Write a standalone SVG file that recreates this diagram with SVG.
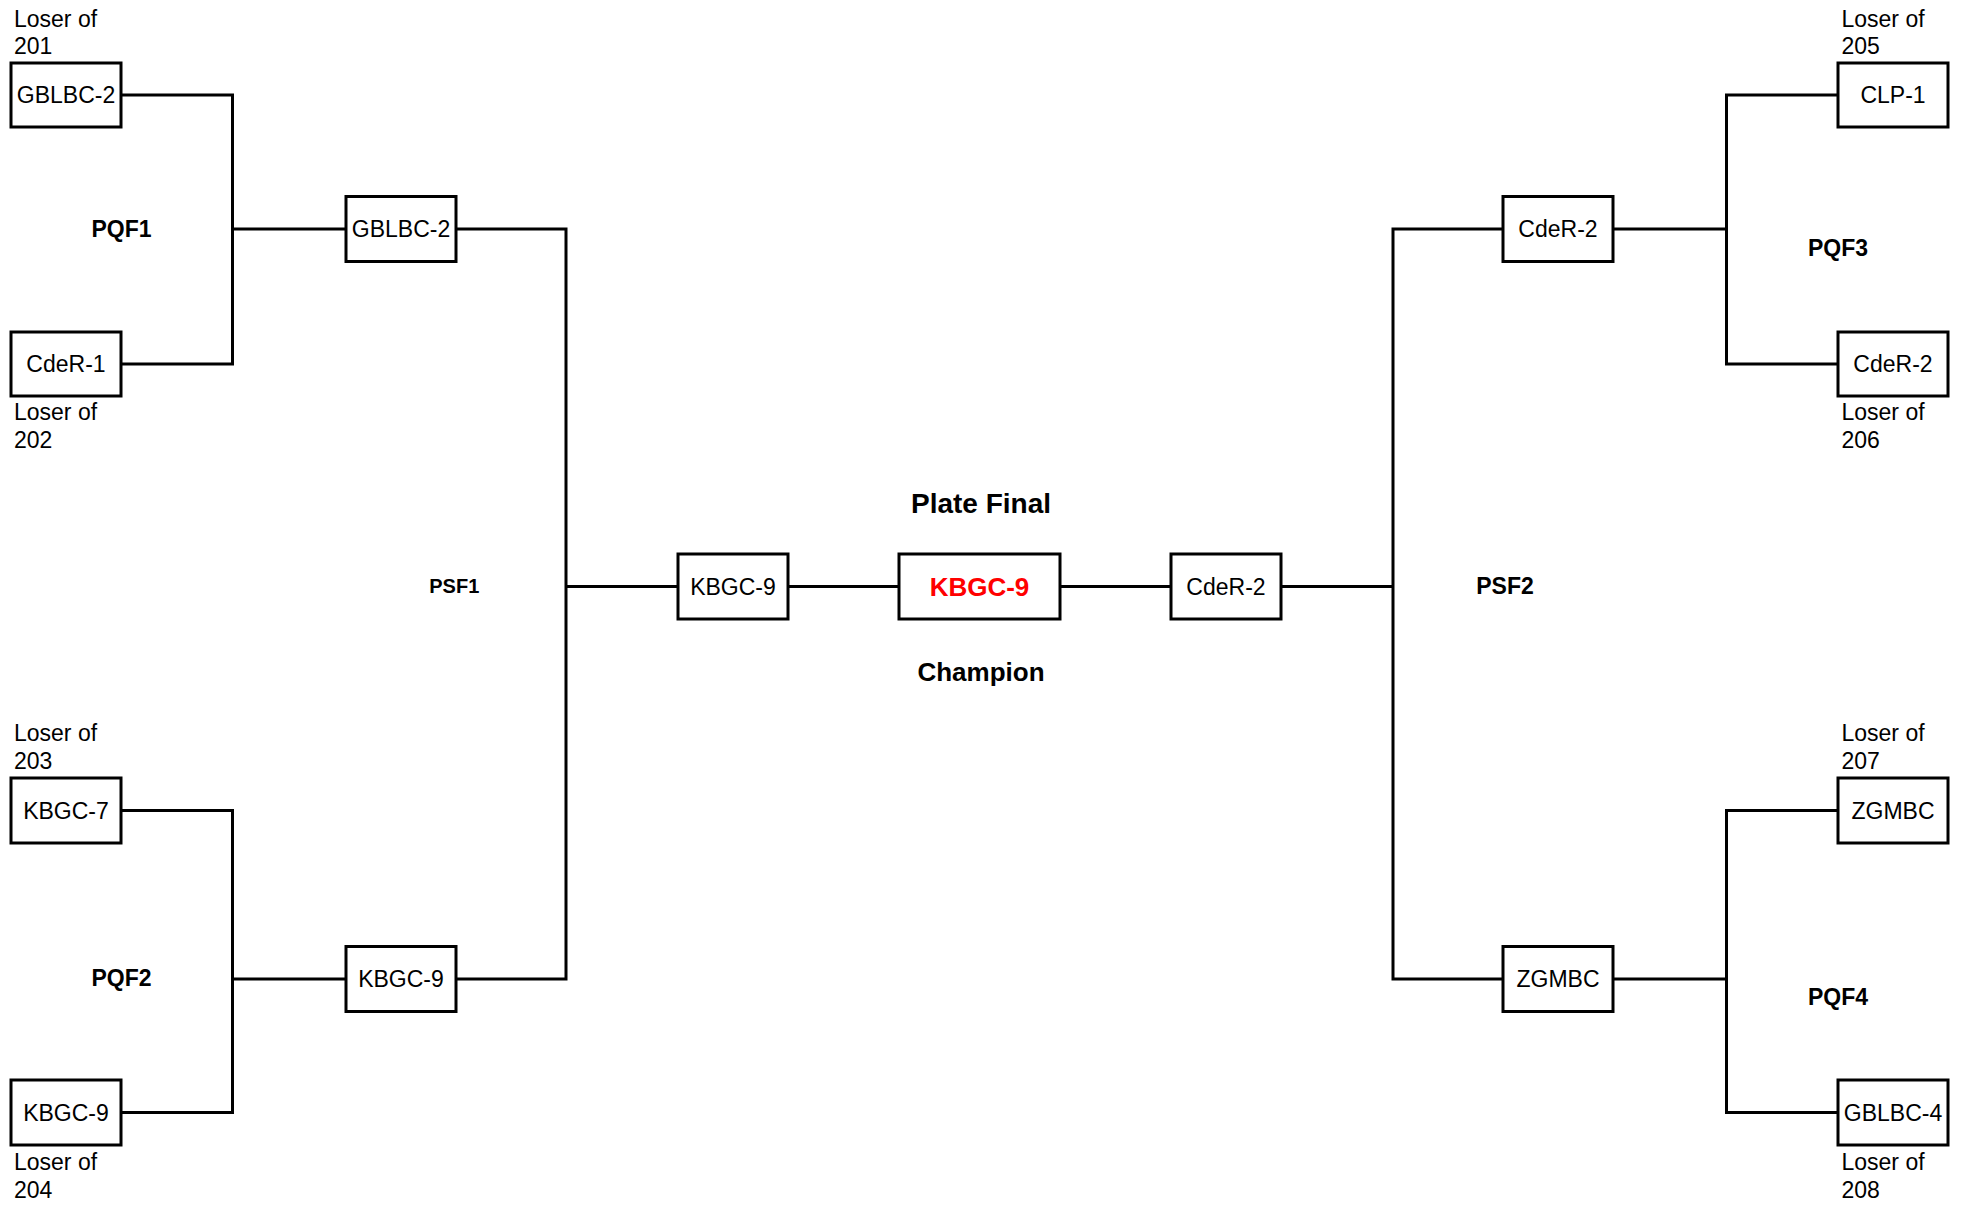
<svg xmlns="http://www.w3.org/2000/svg" width="1962" height="1205" viewBox="0 0 1962 1205">
<style>
.box{fill:#fff;stroke:#000;stroke-width:3}
.ln{fill:none;stroke:#000;stroke-width:3}
.t{font-family:"Liberation Sans",Arial,sans-serif;font-size:23px;fill:#000}
.c{text-anchor:middle}
.b{font-weight:bold}
</style>
<rect width="1962" height="1205" fill="#fff"/>
<g id="connectors">
<path class="ln" d="M121 95 H232.5 V364 H121"/>
<path class="ln" d="M232.5 229 H346"/>
<path class="ln" d="M456 229 H566 V979 H456"/>
<path class="ln" d="M566 586.5 H678"/>
<path class="ln" d="M788 586.5 H899"/>
<path class="ln" d="M121 810.5 H232.5 V1112.5 H121"/>
<path class="ln" d="M232.5 979 H346"/>
<path class="ln" d="M1838 95 H1726.5 V364 H1838"/>
<path class="ln" d="M1726.5 229 H1613"/>
<path class="ln" d="M1503 229 H1393 V979 H1503"/>
<path class="ln" d="M1393 586.5 H1281"/>
<path class="ln" d="M1171 586.5 H1060"/>
<path class="ln" d="M1838 810.5 H1726.5 V1112.5 H1838"/>
<path class="ln" d="M1726.5 979 H1613"/>
</g>
<g id="labels">
<text class="t b c" x="121.5" y="237">PQF1</text>
<text class="t b c" x="121.5" y="986">PQF2</text>
<text class="t b c" x="1838" y="256">PQF3</text>
<text class="t b c" x="1838" y="1004.5">PQF4</text>
<text class="t b c" x="454.3" y="593.3" style="font-size:20px">PSF1</text>
<text class="t b c" x="1505" y="594">PSF2</text>
<text class="t b c" x="981" y="513" style="font-size:28px">Plate Final</text>
<text class="t b c" x="981" y="681" style="font-size:26px">Champion</text>
<text class="t" x="14" y="26.5">Loser of<tspan x="14" y="53.5">201</tspan></text>
<text class="t" x="14" y="419.5">Loser of<tspan x="14" y="448">202</tspan></text>
<text class="t" x="14" y="740.7">Loser of<tspan x="14" y="769">203</tspan></text>
<text class="t" x="14" y="1170">Loser of<tspan x="14" y="1198">204</tspan></text>
<text class="t" x="1841.5" y="26.5">Loser of<tspan x="1841.5" y="53.5">205</tspan></text>
<text class="t" x="1841.5" y="419.5">Loser of<tspan x="1841.5" y="448">206</tspan></text>
<text class="t" x="1841.5" y="740.7">Loser of<tspan x="1841.5" y="769">207</tspan></text>
<text class="t" x="1841.5" y="1170">Loser of<tspan x="1841.5" y="1198">208</tspan></text>
</g>
<g id="n-pqf1-a"><rect class="box" x="11" y="63" width="110" height="64"/><text class="t c" x="66" y="103">GBLBC-2</text></g>
<g id="n-pqf1-b"><rect class="box" x="11" y="332" width="110" height="64"/><text class="t c" x="66" y="372">CdeR-1</text></g>
<g id="n-pqf2-a"><rect class="box" x="11" y="778" width="110" height="65"/><text class="t c" x="66" y="818.5">KBGC-7</text></g>
<g id="n-pqf2-b"><rect class="box" x="11" y="1080" width="110" height="65"/><text class="t c" x="66" y="1120.5">KBGC-9</text></g>
<g id="n-psf1-a"><rect class="box" x="346" y="196.5" width="110" height="65"/><text class="t c" x="401" y="237">GBLBC-2</text></g>
<g id="n-psf1-b"><rect class="box" x="346" y="946.5" width="110" height="65"/><text class="t c" x="401" y="987">KBGC-9</text></g>
<g id="n-final-a"><rect class="box" x="678" y="554" width="110" height="65"/><text class="t c" x="733" y="594.5">KBGC-9</text></g>
<g id="n-champion"><rect class="box" x="899" y="554" width="161" height="65"/><text class="t c b" x="979.5" y="595.5" style="font-size:26px;fill:#ff0000">KBGC-9</text></g>
<g id="n-final-b"><rect class="box" x="1171" y="554" width="110" height="65"/><text class="t c" x="1226" y="594.5">CdeR-2</text></g>
<g id="n-psf2-a"><rect class="box" x="1503" y="196.5" width="110" height="65"/><text class="t c" x="1558" y="237">CdeR-2</text></g>
<g id="n-psf2-b"><rect class="box" x="1503" y="946.5" width="110" height="65"/><text class="t c" x="1558" y="987">ZGMBC</text></g>
<g id="n-pqf3-a"><rect class="box" x="1838" y="63" width="110" height="64"/><text class="t c" x="1893" y="103">CLP-1</text></g>
<g id="n-pqf3-b"><rect class="box" x="1838" y="332" width="110" height="64"/><text class="t c" x="1893" y="372">CdeR-2</text></g>
<g id="n-pqf4-a"><rect class="box" x="1838" y="778" width="110" height="65"/><text class="t c" x="1893" y="818.5">ZGMBC</text></g>
<g id="n-pqf4-b"><rect class="box" x="1838" y="1080" width="110" height="65"/><text class="t c" x="1893" y="1120.5">GBLBC-4</text></g>
</svg>
